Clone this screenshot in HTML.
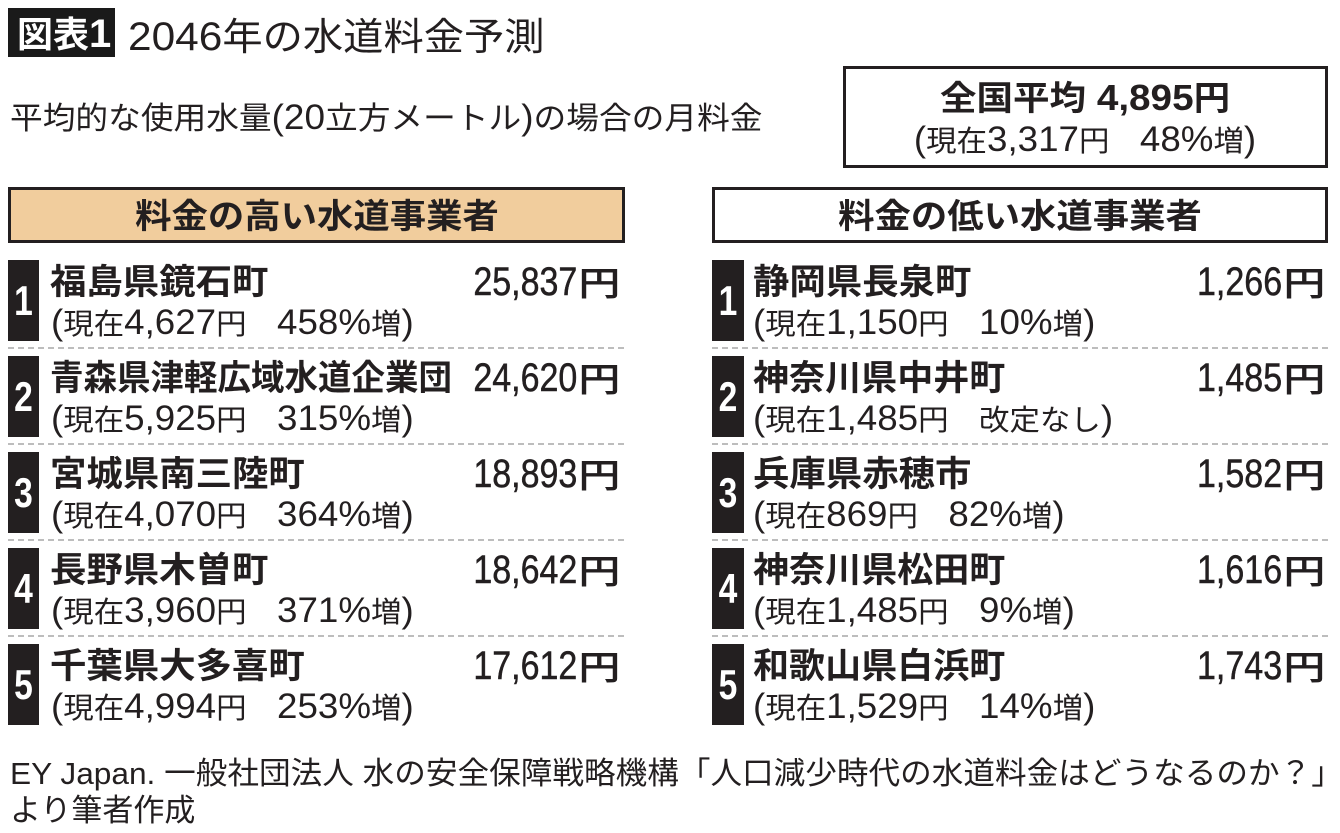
<!DOCTYPE html>
<html><head><meta charset="utf-8">
<style>
html,body{margin:0;padding:0;}
body{width:1340px;height:833px;background:#fff;position:relative;overflow:hidden;color:#231f20;font-family:"Liberation Sans","Noto Sans CJK JP",sans-serif;}
.a{position:absolute;white-space:nowrap;line-height:1;}
.L{transform-origin:0 50%;}
.R{transform-origin:100% 50%;}
.blk{position:absolute;background:#231f20;width:31px;height:81px;}
.num{position:absolute;width:31px;text-align:center;color:#fff;font-weight:bold;font-size:42px;line-height:1;transform:scaleX(.8);}
.name{font-size:35px;font-weight:bold;}
.sub{font-size:35px;transform:scaleX(1.05);}
.sub .j{font-size:29px;}
.pr{font-size:40px;-webkit-text-stroke:0.5px #231f20;transform:scaleX(.85);}
.yen{font-size:33px;font-weight:normal;-webkit-text-stroke:1px #231f20;transform:scaleX(1.25);}
.dash{position:absolute;height:2px;background:repeating-linear-gradient(to right,#bdbdbd 0 6px,transparent 6px 10px);}
.hdr{position:absolute;box-sizing:border-box;border:3px solid #231f20;height:56px;top:187px;}
.ctr{position:absolute;left:0;right:0;text-align:center;white-space:nowrap;line-height:1;}
.ctr>span{display:inline-block;}
</style></head><body>

<!-- Title -->
<div style="position:absolute;left:8px;top:8px;width:107px;height:49px;background:#1a1a1a;"></div>
<div class="a L" style="left:17px;top:14px;font-size:40px;font-weight:bold;color:#fff;transform:scaleX(1.0);"><span style="font-size:36px">図表</span>1</div>
<div class="a L" style="left:128px;top:17px;font-size:40px;transform:scaleX(1.06);">2046<span style="font-size:38px">年の水道料金予測</span></div>

<!-- Subtitle -->
<div class="a L" style="left:10px;top:100px;font-size:35px;transform:scaleX(1.055);"><span style="font-size:31px">平均的な使用水量</span>(20<span style="font-size:31px">立方メートル</span>)<span style="font-size:31px">の場合の月料金</span></div>

<!-- National average box -->
<div style="position:absolute;box-sizing:border-box;left:843px;top:66px;width:485px;height:102px;border:3px solid #231f20;"></div>
<div class="ctr" style="left:843px;width:485px;top:80px;font-size:36px;font-weight:bold;"><span style="transform:scaleX(1.074);"><span style="font-size:34px">全国平均</span> 4,895<span style="font-size:34px">円</span></span></div>
<div class="ctr" style="left:843px;width:485px;top:122px;font-size:35px;"><span style="transform:scaleX(1.05);">(<span style="font-size:29px">現在</span>3,317<span style="font-size:29px">円　</span>48%<span style="font-size:29px">増</span>)</span></div>

<!-- Headers -->
<div class="hdr" style="left:8px;width:617px;background:#f1cd9d;"></div>
<div class="ctr" style="left:8px;width:617px;right:auto;top:200px;font-size:34px;font-weight:bold;"><span style="transform:scaleX(1.07);">料金の高い水道事業者</span></div>
<div class="hdr" style="left:712px;width:616px;background:#fff;"></div>
<div class="ctr" style="left:712px;width:616px;right:auto;top:200px;font-size:34px;font-weight:bold;"><span style="transform:scaleX(1.07);">料金の低い水道事業者</span></div>

<!-- LEFT COLUMN -->
<div class="blk" style="left:8px;top:260px;"></div>
<div class="num" style="left:8px;top:280px;">1</div>
<div class="a name L" style="left:50px;top:265px;transform:scaleX(1.04);">福島県鏡石町</div>
<div class="a pr R" style="right:763px;top:262px;">25,837</div>
<div class="a yen R" style="right:720px;top:267px;">円</div>
<div class="a sub L" style="left:51px;top:305px;">(<span class="j">現在</span>4,627<span class="j">円　</span>458%<span class="j">増</span>)</div>
<div class="dash" style="left:8px;width:617px;top:347px;"></div>

<div class="blk" style="left:8px;top:356px;"></div>
<div class="num" style="left:8px;top:376px;">2</div>
<div class="a name L" style="left:50px;top:361px;transform:scaleX(.957);">青森県津軽広域水道企業団</div>
<div class="a pr R" style="right:763px;top:358px;">24,620</div>
<div class="a yen R" style="right:720px;top:363px;">円</div>
<div class="a sub L" style="left:51px;top:401px;">(<span class="j">現在</span>5,925<span class="j">円　</span>315%<span class="j">増</span>)</div>
<div class="dash" style="left:8px;width:617px;top:443px;"></div>

<div class="blk" style="left:8px;top:452px;"></div>
<div class="num" style="left:8px;top:472px;">3</div>
<div class="a name L" style="left:50px;top:457px;transform:scaleX(1.04);">宮城県南三陸町</div>
<div class="a pr R" style="right:763px;top:454px;">18,893</div>
<div class="a yen R" style="right:720px;top:459px;">円</div>
<div class="a sub L" style="left:51px;top:497px;">(<span class="j">現在</span>4,070<span class="j">円　</span>364%<span class="j">増</span>)</div>
<div class="dash" style="left:8px;width:617px;top:539px;"></div>

<div class="blk" style="left:8px;top:548px;"></div>
<div class="num" style="left:8px;top:568px;">4</div>
<div class="a name L" style="left:50px;top:553px;transform:scaleX(1.04);">長野県木曽町</div>
<div class="a pr R" style="right:763px;top:550px;">18,642</div>
<div class="a yen R" style="right:720px;top:555px;">円</div>
<div class="a sub L" style="left:51px;top:593px;">(<span class="j">現在</span>3,960<span class="j">円　</span>371%<span class="j">増</span>)</div>
<div class="dash" style="left:8px;width:617px;top:635px;"></div>

<div class="blk" style="left:8px;top:644px;"></div>
<div class="num" style="left:8px;top:664px;">5</div>
<div class="a name L" style="left:50px;top:649px;transform:scaleX(1.04);">千葉県大多喜町</div>
<div class="a pr R" style="right:763px;top:646px;">17,612</div>
<div class="a yen R" style="right:720px;top:651px;">円</div>
<div class="a sub L" style="left:51px;top:689px;">(<span class="j">現在</span>4,994<span class="j">円　</span>253%<span class="j">増</span>)</div>

<!-- RIGHT COLUMN -->
<div class="blk" style="left:712px;top:260px;width:32px;"></div>
<div class="num" style="left:712px;width:32px;top:280px;">1</div>
<div class="a name L" style="left:753px;top:265px;transform:scaleX(1.04);">静岡県長泉町</div>
<div class="a pr R" style="right:58px;top:262px;">1,266</div>
<div class="a yen R" style="right:15px;top:267px;">円</div>
<div class="a sub L" style="left:753px;top:305px;">(<span class="j">現在</span>1,150<span class="j">円　</span>10%<span class="j">増</span>)</div>
<div class="dash" style="left:712px;width:616px;top:347px;"></div>

<div class="blk" style="left:712px;top:356px;width:32px;"></div>
<div class="num" style="left:712px;width:32px;top:376px;">2</div>
<div class="a name L" style="left:753px;top:361px;transform:scaleX(1.03);">神奈川県中井町</div>
<div class="a pr R" style="right:58px;top:358px;">1,485</div>
<div class="a yen R" style="right:15px;top:363px;">円</div>
<div class="a sub L" style="left:753px;top:401px;">(<span class="j">現在</span>1,485<span class="j">円　改定なし</span>)</div>
<div class="dash" style="left:712px;width:616px;top:443px;"></div>

<div class="blk" style="left:712px;top:452px;width:32px;"></div>
<div class="num" style="left:712px;width:32px;top:472px;">3</div>
<div class="a name L" style="left:753px;top:457px;transform:scaleX(1.04);">兵庫県赤穂市</div>
<div class="a pr R" style="right:58px;top:454px;">1,582</div>
<div class="a yen R" style="right:15px;top:459px;">円</div>
<div class="a sub L" style="left:753px;top:497px;">(<span class="j">現在</span>869<span class="j">円　</span>82%<span class="j">増</span>)</div>
<div class="dash" style="left:712px;width:616px;top:539px;"></div>

<div class="blk" style="left:712px;top:548px;width:32px;"></div>
<div class="num" style="left:712px;width:32px;top:568px;">4</div>
<div class="a name L" style="left:753px;top:553px;transform:scaleX(1.03);">神奈川県松田町</div>
<div class="a pr R" style="right:58px;top:550px;">1,616</div>
<div class="a yen R" style="right:15px;top:555px;">円</div>
<div class="a sub L" style="left:753px;top:593px;">(<span class="j">現在</span>1,485<span class="j">円　</span>9%<span class="j">増</span>)</div>
<div class="dash" style="left:712px;width:616px;top:635px;"></div>

<div class="blk" style="left:712px;top:644px;width:32px;"></div>
<div class="num" style="left:712px;width:32px;top:664px;">5</div>
<div class="a name L" style="left:753px;top:649px;transform:scaleX(1.03);">和歌山県白浜町</div>
<div class="a pr R" style="right:58px;top:646px;">1,743</div>
<div class="a yen R" style="right:15px;top:651px;">円</div>
<div class="a sub L" style="left:753px;top:689px;">(<span class="j">現在</span>1,529<span class="j">円　</span>14%<span class="j">増</span>)</div>

<!-- Footer -->
<div class="a L" style="left:10px;top:758px;font-size:31px;transform:scaleX(1.02);">EY Japan. 一般社団法人 水の安全保障戦略機構「人口減少時代の水道料金はどうなるのか？」</div>
<div class="a L" style="left:10px;top:795px;font-size:31px;">より筆者作成</div>

</body></html>
